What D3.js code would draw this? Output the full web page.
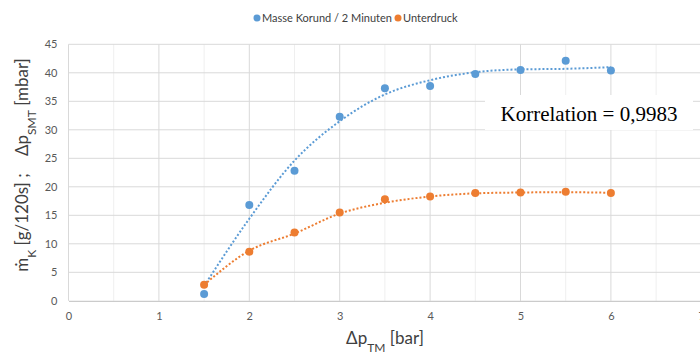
<!DOCTYPE html>
<html>
<head>
<meta charset="utf-8">
<script src="https://cdn.jsdelivr.net/npm/d3@7"></script>
<style>
  body { margin: 0; background: #fff; }
  svg { display: block; }
</style>
</head>
<body>
<div id="chart"></div>
<script>
// data
var druck = [1.5, 2, 2.5, 3, 3.5, 4, 4.5, 5, 5.5, 6];
var masseKorund = [1.2, 16.8, 22.8, 32.3, 37.3, 37.7, 39.8, 40.5, 42.1, 40.4];
var unterdruck = [2.8, 8.6, 12.0, 15.5, 17.8, 18.3, 18.9, 19.0, 19.15, 18.9];
// dotted trend lines, read at the same x values
var trendKorund = [2.6, 14.4, 24.6, 31.5, 36.2, 38.7, 40.1, 40.6, 40.7, 41.0];
var trendUnter = [2.8, 8.8, 11.8, 15.3, 17.2, 18.3, 18.85, 19.0, 19.05, 18.95];
var xTicks = [0, 1, 2, 3, 4, 5, 6, 7];
var yTicks = [0, 5, 10, 15, 20, 25, 30, 35, 40, 45];
var legendNames = ["Masse Korund / 2 Minuten", "Unterdruck"];
var colors = ["#5b9bd5", "#ed7d31"];

var W = 700, H = 353;
var margin = {left: 68.5, top: 44.3, right: -1.3, bottom: 52.2};
var sans = "Lato, Carlito, Calibri, sans-serif";

var svg = d3.select("#chart").append("svg")
  .attr("width", W).attr("height", H);

var x = d3.scaleLinear().domain([0, 7]).range([margin.left, W - margin.right]);
var y = d3.scaleLinear().domain([0, 45]).range([H - margin.bottom, margin.top]);

// minor vertical gridlines
svg.append("g").selectAll("line")
  .data(d3.range(0.5, 7, 1))
  .enter().append("line")
    .attr("x1", function(d) { return x(d); })
    .attr("x2", function(d) { return x(d); })
    .attr("y1", y(0)).attr("y2", y(45))
    .style("stroke", "#efefef").style("stroke-width", 1);

// major gridlines
svg.append("g").selectAll("line")
  .data(xTicks)
  .enter().append("line")
    .attr("x1", function(d) { return x(d); })
    .attr("x2", function(d) { return x(d); })
    .attr("y1", y(0)).attr("y2", y(45))
    .style("stroke", "#d9d9d9").style("stroke-width", 1);

svg.append("g").selectAll("line")
  .data(yTicks.slice(1))
  .enter().append("line")
    .attr("x1", x(0)).attr("x2", W)
    .attr("y1", function(d) { return y(d); })
    .attr("y2", function(d) { return y(d); })
    .style("stroke", "#d9d9d9").style("stroke-width", 1);

// x axis
var xAxis = svg.append("g")
  .attr("transform", "translate(0," + y(0) + ")")
  .call(d3.axisBottom(x).tickValues(xTicks).tickFormat(d3.format("d")).tickSize(0).tickPadding(11));
xAxis.select(".domain").style("stroke", "#bfbfbf");
xAxis.selectAll("text")
  .style("font-family", sans)
  .style("font-size", "11px").style("fill", "#595959");

// y axis
var yAxis = svg.append("g")
  .attr("transform", "translate(" + x(0) + ",0)")
  .call(d3.axisLeft(y).tickValues(yTicks).tickSize(0).tickPadding(11));
yAxis.select(".domain").remove();
yAxis.selectAll("text")
  .style("font-family", sans)
  .style("font-size", "11px").style("fill", "#595959");

// trend lines
var line = d3.line()
  .x(function(d) { return x(d[0]); })
  .y(function(d) { return y(d[1]); })
  .curve(d3.curveMonotoneX);

[trendKorund, trendUnter].forEach(function(t, i) {
  svg.append("path")
    .datum(druck.map(function(d, j) { return [d, t[j]]; }))
    .attr("d", line)
    .style("fill", "none")
    .style("stroke", colors[i])
    .style("stroke-width", 2)
    .style("stroke-dasharray", "2,2");
});

// points
[masseKorund, unterdruck].forEach(function(s, i) {
  svg.append("g").selectAll("circle")
    .data(druck.map(function(d, j) { return [d, s[j]]; }))
    .enter().append("circle")
      .attr("cx", function(d) { return x(d[0]); })
      .attr("cy", function(d) { return y(d[1]); })
      .attr("r", 4)
      .style("fill", colors[i]);
});

// legend
var legendX = [257, 398];
legendNames.forEach(function(n, i) {
  svg.append("circle").attr("cx", legendX[i]).attr("cy", 18).attr("r", 3.5).style("fill", colors[i]);
  svg.append("text").attr("x", legendX[i] + 5).attr("y", 22)
    .text(n)
    .style("font-family", sans)
    .style("font-size", "11px").style("fill", "#404040");
});

// correlation box
svg.append("rect")
  .attr("x", 485).attr("y", 95).attr("width", 208).attr("height", 35)
  .style("fill", "#fff");
svg.append("text")
  .attr("x", 589).attr("y", 121)
  .attr("text-anchor", "middle")
  .text("Korrelation = 0,9983")
  .style("font-family", "Liberation Serif, Times New Roman, serif")
  .style("font-size", "21px").style("fill", "#000");

// axis titles
var xt = svg.append("text")
  .attr("x", 385).attr("y", 344)
  .attr("text-anchor", "middle")
  .style("font-family", sans)
  .style("font-size", "17px").style("fill", "#404040");
xt.append("tspan").text("\u0394p");
xt.append("tspan").text("TM").attr("baseline-shift", "sub").style("font-size", "12px");
xt.append("tspan").text(" [bar]");

var yt = svg.append("text")
  .attr("transform", "translate(28,165) rotate(-90)")
  .attr("text-anchor", "middle")
  .style("font-family", sans)
  .style("font-size", "17px").style("fill", "#404040")
  .attr("xml:space", "preserve");
yt.append("tspan").text("\u1E41");
yt.append("tspan").text("K").attr("baseline-shift", "sub").style("font-size", "12px");
yt.append("tspan").text(" [g/120s] ;    \u0394p");
yt.append("tspan").text("SMT").attr("baseline-shift", "sub").style("font-size", "12px");
yt.append("tspan").text(" [mbar]");
</script>
</body>
</html>
